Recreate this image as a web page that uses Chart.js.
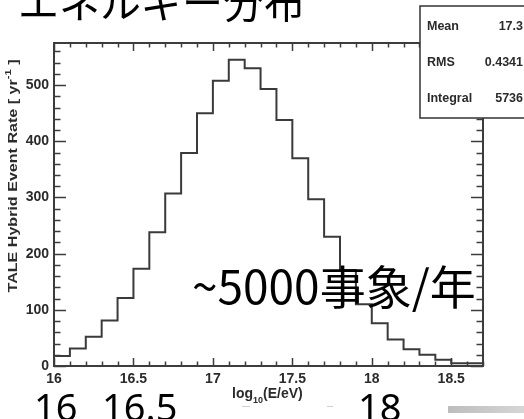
<!DOCTYPE html>
<html>
<head>
<meta charset="utf-8">
<script src="https://cdn.jsdelivr.net/npm/chart.js@4.4.1/dist/chart.umd.min.js"></script>
<style>
  html, body { margin: 0; padding: 0; background: #fff; overflow: hidden; }
  #wrap { width: 524px; height: 419px; }
</style>
</head>
<body>
<div id="wrap"><canvas id="chart" width="524" height="419"></canvas></div>
<script>
// histogram bins (lower edges, log10(E/eV)) and event rate per bin [yr^-1]
const binLow = [16.0, 16.1, 16.2, 16.3, 16.4, 16.5, 16.6, 16.7, 16.8, 16.9,
                17.0, 17.1, 17.2, 17.3, 17.4, 17.5, 17.6, 17.7, 17.8, 17.9,
                18.0, 18.1, 18.2, 18.3, 18.4, 18.5, 18.6];
const binEnd = 18.7;
const rate = [9, 18, 31, 52, 81, 121, 173, 238, 307, 379,
              450, 508, 545, 530, 493, 438, 370, 297, 230, 171,
              110, 76, 47, 30, 20, 11, 5];
const xRange = [16, 18.7];
const yRange = [0, 575];
const statNames = ['Mean', 'RMS', 'Integral'];
const statValues = ['17.3', '0.4341', '5736'];
const slideTicks = ['16', '16.5', '18'];

const histPoints = binLow.map((x, i) => ({ x: x, y: rate[i] }));
histPoints.push({ x: binEnd, y: rate[rate.length - 1] });

const tickFont = { family: 'Liberation Sans', weight: 'bold', size: 14 };
const ink = '#2b2b2b';

const rootStyle = {
    id: 'rootStyle',
    beforeDatasetsDraw(chart) {
        const { ctx, chartArea: a, scales: { x, y } } = chart;
        ctx.save();
        ctx.strokeStyle = '#3c3c3c';
        ctx.lineWidth = 1.5;
        ctx.beginPath();
        // x ticks (bottom + mirrored top), minor every 0.1
        for (let k = 0; k <= 27; k++) {
            const px = Math.round(x.getPixelForValue(xRange[0] + k * 0.1)) + 0.5;
            const len = k % 5 === 0 ? 8 : 4.5;
            ctx.moveTo(px, a.bottom); ctx.lineTo(px, a.bottom - len);
            ctx.moveTo(px, a.top); ctx.lineTo(px, a.top + len);
        }
        // y ticks (left + mirrored right), minor every 20
        for (let v = 0; v <= 560; v += 20) {
            const py = Math.round(y.getPixelForValue(v)) + 0.5;
            const len = v % 100 === 0 ? 12 : 6.5;
            ctx.moveTo(a.left, py); ctx.lineTo(a.left + len, py);
            ctx.moveTo(a.right, py); ctx.lineTo(a.right - len, py);
        }
        ctx.stroke();
        ctx.lineWidth = 2;
        ctx.strokeRect(a.left, a.top, a.right - a.left, a.bottom - a.top);
        ctx.restore();
    },
    afterDraw(chart) {
        const { ctx } = chart;
        ctx.save();
        ctx.fillStyle = ink;

        // y axis title, rotated, stretched along its length
        ctx.save();
        ctx.translate(13, 176);
        ctx.rotate(-Math.PI / 2);
        ctx.font = 'bold 13px "Liberation Sans"';
        const t1 = 'TALE Hybrid Event Rate [ yr', t3 = ' ]';
        const w1 = ctx.measureText(t1).width;
        ctx.font = 'bold 9px "Liberation Sans"';
        const w2 = ctx.measureText('-1').width;
        ctx.font = 'bold 13px "Liberation Sans"';
        const w3 = ctx.measureText(t3).width;
        const total = w1 + w2 + w3;
        ctx.scale(233 / total, 1);
        ctx.textBaseline = 'middle';
        let cx = -total / 2;
        ctx.fillText(t1, cx, 0); cx += w1;
        ctx.font = 'bold 9px "Liberation Sans"';
        ctx.fillText('-1', cx, -4); cx += w2;
        ctx.font = 'bold 13px "Liberation Sans"';
        ctx.fillText(t3, cx, 0);
        ctx.restore();

        // x axis title log10(E/eV)
        ctx.textBaseline = 'alphabetic';
        ctx.font = 'bold 14px "Liberation Sans"';
        let xx = 232;
        ctx.fillText('log', xx, 398); xx += ctx.measureText('log').width;
        ctx.font = 'bold 9px "Liberation Sans"';
        ctx.fillText('10', xx, 403); xx += ctx.measureText('10').width;
        ctx.font = 'bold 14px "Liberation Sans"';
        ctx.fillText('(E/eV)', xx, 398);

        // stats box
        ctx.fillStyle = '#fff';
        ctx.fillRect(420, 6, 120, 112);
        ctx.strokeStyle = '#333';
        ctx.lineWidth = 1.5;
        ctx.strokeRect(420, 6, 120, 112);
        ctx.fillStyle = ink;
        ctx.font = 'bold 12.5px "Liberation Sans"';
        ctx.textBaseline = 'middle';
        statNames.forEach((n, i) => {
            const yy = 27 + i * 36;
            ctx.textAlign = 'left';
            ctx.fillText(n, 427, yy);
            ctx.textAlign = 'right';
            ctx.fillText(statValues[i], 523, yy);
        });

        // slide overlay texts
        ctx.fillStyle = '#000';
        ctx.textAlign = 'left';
        ctx.textBaseline = 'alphabetic';
        ctx.font = '41px "Noto Sans CJK JP"';
        ctx.fillText('エネルギー分布', 18, 18);
        ctx.font = '46px "Noto Sans CJK JP"';
        ctx.fillText('~5000事象/年', 192, 304);
        ctx.font = '38px "Noto Sans"';
        const slideX = [34, 102, 358];
        slideTicks.forEach((t, i) => ctx.fillText(t, slideX[i], 421));

        // remnants at the bottom edge
        ctx.strokeStyle = '#cfcfcf';
        ctx.lineWidth = 1;
        ctx.beginPath();
        ctx.moveTo(242, 406.5); ctx.lineTo(250, 406.5);
        ctx.moveTo(327, 406.5); ctx.lineTo(333, 406.5);
        ctx.stroke();
        const g = ctx.createLinearGradient(448, 0, 524, 0);
        g.addColorStop(0, '#bdbdbd');
        g.addColorStop(1, '#d6d6d6');
        ctx.fillStyle = g;
        ctx.fillRect(448, 406, 76, 7);
        ctx.restore();
    }
};

new Chart(document.getElementById('chart'), {
    type: 'line',
    data: {
        datasets: [{
            data: histPoints,
            stepped: 'after',
            borderColor: '#3a3a3a',
            borderWidth: 2,
            pointRadius: 0,
            fill: false
        }]
    },
    options: {
        responsive: false,
        animation: false,
        devicePixelRatio: 1,
        layout: { padding: { top: 43, right: 41, left: 0, bottom: 0 } },
        plugins: { legend: { display: false }, tooltip: { enabled: false } },
        scales: {
            x: {
                type: 'linear', min: xRange[0], max: xRange[1],
                grid: { display: false, drawTicks: false },
                border: { display: false },
                ticks: {
                    stepSize: 0.5, includeBounds: false, autoSkip: false, maxRotation: 0,
                    padding: 5, color: ink, font: tickFont,
                    callback: v => String(Math.round(v * 10) / 10)
                },
                afterFit: s => { s.height = 53; }
            },
            y: {
                type: 'linear', min: yRange[0], max: yRange[1],
                grid: { display: false, drawTicks: false },
                border: { display: false },
                ticks: {
                    stepSize: 100, includeBounds: false,
                    padding: 5, color: ink, font: tickFont
                },
                afterFit: s => { s.width = 54; }
            }
        }
    },
    plugins: [rootStyle]
});
</script>
</body>
</html>
